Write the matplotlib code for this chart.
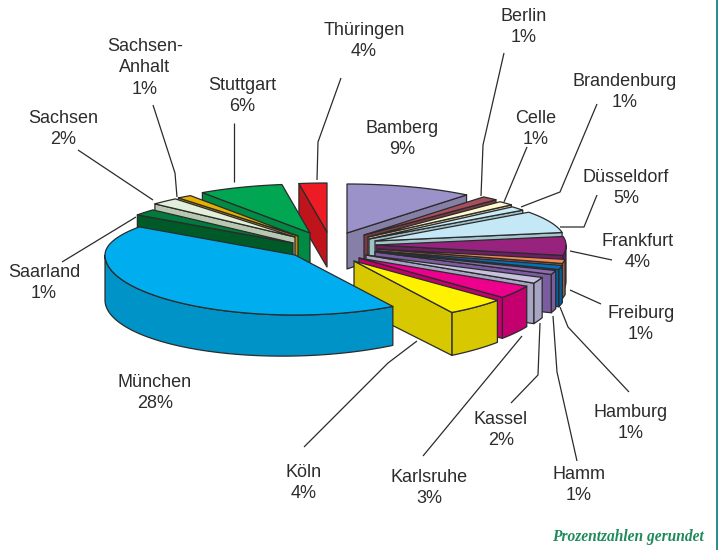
#!/usr/bin/env python3
"""Exploded pseudo-3D pie chart of the locations, drawn with plain polygons."""

import numpy as np
import matplotlib

matplotlib.use("Agg")
import matplotlib.pyplot as plt
from matplotlib.patches import Polygon

# data, clockwise from 12 o'clock
cities = ["Bamberg", "Berlin", "Brandenburg", "Celle", "Düsseldorf", "Frankfurt",
          "Freiburg", "Hamburg", "Hamm", "Kassel", "Karlsruhe", "Köln", "München",
          "Saarland", "Sachsen", "Sachsen-\nAnhalt", "Stuttgart", "Thüringen"]
percent_labels = [9, 1, 1, 1, 5, 4, 1, 1, 1, 2, 3, 4, 28, 1, 2, 1, 6, 4]
# slice sizes as drawn, the printed percentages are rounded
slice_sizes = [39, 5, 5, 5, 26, 20, 4, 4, 4, 6, 13, 18, 156, 7.5, 8.5, 4.5, 26, 8.5]

top_colors = ["#9a92c8", "#a6505f", "#fff8d0", "#c8ecf8", "#c5e8f7", "#97237f",
              "#f58a55", "#0072bc", "#8e6cb0", "#c8c2e0", "#ec008c", "#fff200",
              "#00aeef", "#007a3d", "#e2efda", "#e6b000", "#00a651", "#ed1c24"]
wall_colors = ["#8680a8", "#7a3a44", "#c8c090", "#a0c0c8", "#a5c4cc", "#6f1d66",
               "#9a5f48", "#00609f", "#7a5ca0", "#a8a4c4", "#c4006f", "#d8c800",
               "#0093c8", "#005a28", "#b8c8b0", "#c09000", "#008a44", "#c0141c"]

# layout
CENTER = (335, 243)
RX, RY_BACK, RY_FRONT = 190, 49, 60
explode_x = [12, 29, 33, 34, 40, 41, 43, 43, 40, 31, 24, 19, -40, -42, -40, -37, -25, -8]
explode_y = [-10, -8, -6, -4, -2, 2, 6, 8, 9, 12, 15, 18, 12, 0, -6, -7, -10, -11]
depths = [36, 39, 39, 39, 40, 40, 39, 41, 42, 44, 44, 45, 41, 36, 34, 34, 33, 35]
DEPTH_SKEW = 4  # walls get a bit taller towards the left
EDGE = "#2b2b2b"
TEXT = "#2c2c2c"

label_pos = [(402, 139), (524, 27), (625, 92), (536, 129), (626, 188), (638, 252),
             (641, 324), (631, 423), (579, 485), (501, 430), (429, 488), (304, 483),
             (155, 393), (44, 283), (63, 129), (145, 68), (242, 96), (364, 41)]

leaders = [
    [(504, 53), (483, 145), (481, 196)],
    [(527, 147), (504, 202)],
    [(597, 104), (560, 192), (521, 207)],
    [(597, 195), (584, 227), (560, 227)],
    [(570, 251), (612, 260)],
    [(570, 290), (601, 304)],
    [(560, 307), (568, 327), (629, 392)],
    [(553, 316), (557, 372), (577, 461)],
    [(540, 323), (538, 375), (511, 403)],
    [(522, 336), (423, 456)],
    [(417, 341), (388, 363), (304, 447)],
    [(62, 262), (136, 217)],
    [(78, 150), (153, 200)],
    [(153, 105), (175, 173), (177, 197)],
    [(234, 123), (234, 182)],
    [(341, 78), (318, 142), (317, 180)],
]


def rim(apex, theta):
    """Point on the ellipse, theta in degrees clockwise from the top."""
    t = np.radians(theta)
    c = np.cos(t)
    ry = RY_BACK if c > 0 else RY_FRONT
    return apex[0] + RX * np.sin(t), apex[1] - ry * c


def wall_height(i, theta):
    return depths[i] - DEPTH_SKEW * np.sin(np.radians(theta))


def draw_slice(ax, i, start, end):
    apex = (CENTER[0] + explode_x[i], CENTER[1] + explode_y[i])
    edge = dict(edgecolor=EDGE, linewidth=0.9, joinstyle="round")

    # outer curved wall, only the front half shows
    lo, hi = max(start, 90), min(end, 270)
    if hi > lo:
        angles = np.linspace(lo, hi, 80)
        pts = [rim(apex, t) for t in angles]
        lower = [(x, y + wall_height(i, t)) for (x, y), t in zip(pts, angles)]
        ax.add_patch(Polygon(pts + lower[::-1], facecolor=wall_colors[i], **edge))

    # radial cut face
    for theta, visible in ((end, np.sin(np.radians(end)) > 0),
                           (start, np.sin(np.radians(start)) < 0)):
        if visible:
            x, y = rim(apex, theta)
            face = [apex, (x, y), (x, y + wall_height(i, theta)),
                    (apex[0], apex[1] + depths[i])]
            ax.add_patch(Polygon(face, facecolor=wall_colors[i], **edge))

    arc = [rim(apex, t) for t in np.linspace(start, end, 120)]
    ax.add_patch(Polygon([apex] + arc, facecolor=top_colors[i], **edge))


def main():
    fig = plt.figure(figsize=(7.18, 5.5), dpi=100)
    ax = fig.add_axes([0, 0, 1, 1])
    ax.set_xlim(0, 718)
    ax.set_ylim(550, 0)
    ax.axis("off")

    sizes = np.array(slice_sizes, dtype=float)
    edges = np.concatenate([[0], np.cumsum(sizes)]) / sizes.sum() * 360
    mids = (edges[:-1] + edges[1:]) / 2
    biggest = int(np.argmax(sizes))

    # back to front, the big slice sits on top of everything
    order = sorted(range(len(sizes)), key=lambda i: (i == biggest, min(mids[i], 360 - mids[i])))
    for i in order:
        draw_slice(ax, i, edges[i], edges[i + 1])

    for line in leaders:
        xs, ys = zip(*line)
        ax.plot(xs, ys, color=EDGE, linewidth=0.9, solid_capstyle="butt")

    for name, pct, (x, y) in zip(cities, percent_labels, label_pos):
        ax.text(x, y, f"{name}\n{pct}%", ha="center", va="center", color=TEXT,
                family="Liberation Sans", fontsize=13, linespacing=1.33)

    ax.text(704, 537, "Prozentzahlen gerundet", ha="right", va="center", color="#1f8a5a",
            family="Liberation Serif", fontsize=11.2, fontweight="bold", fontstyle="italic")

    # thin rule on the right page edge
    ax.axvline(716.5, color="#2a8a8a", linewidth=1.4)

    fig.savefig("out.png", dpi=100)
    plt.close(fig)


if __name__ == "__main__":
    main()
